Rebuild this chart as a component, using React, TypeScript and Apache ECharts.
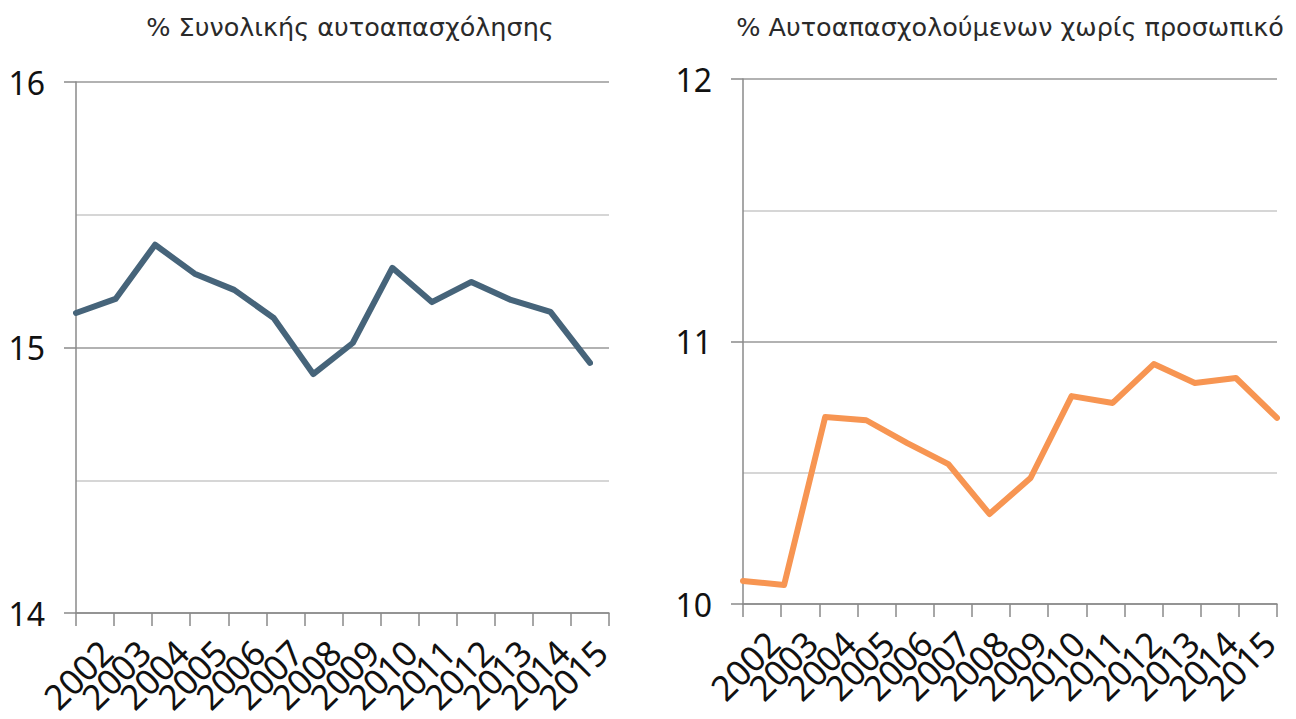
import React, { useEffect, useRef } from "react";
import * as echarts from "echarts";

const years = ["2002", "2003", "2004", "2005", "2006", "2007", "2008", "2009", "2010", "2011", "2012", "2013", "2014", "2015"];
const totalSelfEmployment = [15.13, 15.183, 15.387, 15.278, 15.217, 15.111, 14.9, 15.017, 15.3, 15.171, 15.247, 15.179, 15.134, 14.942];
const soloSelfEmployment = [10.088, 10.072, 10.712, 10.7, 10.613, 10.533, 10.343, 10.48, 10.792, 10.766, 10.914, 10.842, 10.861, 10.709];
const leftTitle = "% Συνολικής αυτοαπασχόλησης";
const rightTitle = "% Αυτοαπασχολούμενων χωρίς προσωπικό";
const leftRange = [14, 16];
const rightRange = [10, 12];

const FONT = "'Noto Sans', sans-serif";
const TITLE_FONT = "'DejaVu Sans', sans-serif";
const AXIS_COLOR = "#8a8a8a";

export default function App() {
  const ref = useRef<HTMLDivElement>(null);
  useEffect(() => {
    if (!ref.current) return;
    const chart = echarts.init(ref.current, undefined, { renderer: "svg" });
    const labelDx = 11;
    const L = { left: 76, top: 82, width: 533, height: 531 };
    const R = { left: 743, top: 79, width: 534, height: 525 };

    const visibleY = (range: number[], gridIndex: number) => ({
      type: "value",
      gridIndex,
      min: range[0],
      max: range[1],
      interval: 1,
      axisLine: { show: true, lineStyle: { color: AXIS_COLOR, width: 1.5 } },
      axisTick: { show: true, length: 12, lineStyle: { color: AXIS_COLOR, width: 1.5 } },
      axisLabel: { color: "#111", fontSize: 32, fontFamily: FONT, margin: 31 },
      splitLine: { show: true, lineStyle: { color: "#999999", width: 1.5 } },
      minorTick: { show: false, splitNumber: 2 },
      minorSplitLine: { show: true, lineStyle: { color: "#c8c8c8", width: 1.5 } },
    });
    const hiddenY = (range: number[], gridIndex: number) => ({
      type: "value",
      gridIndex,
      min: range[0],
      max: range[1],
      show: false,
      splitLine: { show: false },
    });
    const visibleX = (gridIndex: number) => ({
      type: "category",
      gridIndex,
      data: years,
      boundaryGap: true,
      axisLine: { show: true, lineStyle: { color: AXIS_COLOR, width: 1.5 } },
      axisTick: { show: true, length: 13, alignWithLabel: false, interval: 0, lineStyle: { color: AXIS_COLOR, width: 1.5 } },
      axisLabel: { show: false },
      splitLine: { show: false },
    });
    const dataX = (gridIndex: number) => ({
      type: "category",
      gridIndex,
      data: years,
      boundaryGap: false,
      show: false,
    });
    const labelX = (gridIndex: number) => ({
      type: "category",
      gridIndex,
      data: years,
      boundaryGap: true,
      axisLine: { show: false },
      axisTick: { show: false },
      splitLine: { show: false },
      axisLabel: { show: true, interval: 0, rotate: 45, margin: 33, color: "#111", fontSize: 35, fontFamily: FONT },
    });

    chart.setOption({
      animation: false,
      backgroundColor: "#ffffff",
      grid: [
        { ...L, containLabel: false },
        { left: L.left, top: L.top, width: 514, height: L.height },
        { left: L.left + labelDx, top: L.top, width: L.width, height: L.height },
        { ...R },
        { left: R.left, top: R.top, width: R.width, height: R.height },
        { left: R.left + labelDx, top: R.top, width: R.width, height: R.height },
      ],
      xAxis: [visibleX(0), dataX(1), labelX(2), visibleX(3), dataX(4), labelX(5)],
      yAxis: [
        visibleY(leftRange, 0),
        hiddenY(leftRange, 1),
        hiddenY(leftRange, 2),
        visibleY(rightRange, 3),
        hiddenY(rightRange, 4),
        hiddenY(rightRange, 5),
      ],
      series: [
        {
          type: "line",
          xAxisIndex: 1,
          yAxisIndex: 1,
          data: totalSelfEmployment,
          showSymbol: false,
          symbol: "none",
          lineStyle: { color: "#46647a", width: 6, join: "round", cap: "round" },
        },
        {
          type: "line",
          xAxisIndex: 4,
          yAxisIndex: 4,
          data: soloSelfEmployment,
          showSymbol: false,
          symbol: "none",
          lineStyle: { color: "#f79552", width: 6, join: "round", cap: "round" },
        },
      ],
      graphic: [
        {
          type: "text",
          x: 350,
          y: 27,
          style: { text: leftTitle, textAlign: "center", textVerticalAlign: "middle", font: `25.5px ${TITLE_FONT}`, fill: "#2a2a2a" },
        },
        {
          type: "text",
          x: 1010,
          y: 27,
          style: { text: rightTitle, textAlign: "center", textVerticalAlign: "middle", font: `25.5px ${TITLE_FONT}`, fill: "#2a2a2a" },
        },
      ],
    });
    return () => chart.dispose();
  }, []);
  return <div ref={ref} style={{ position: "fixed", left: 0, top: 0, width: 1296, height: 719 }} />;
}
